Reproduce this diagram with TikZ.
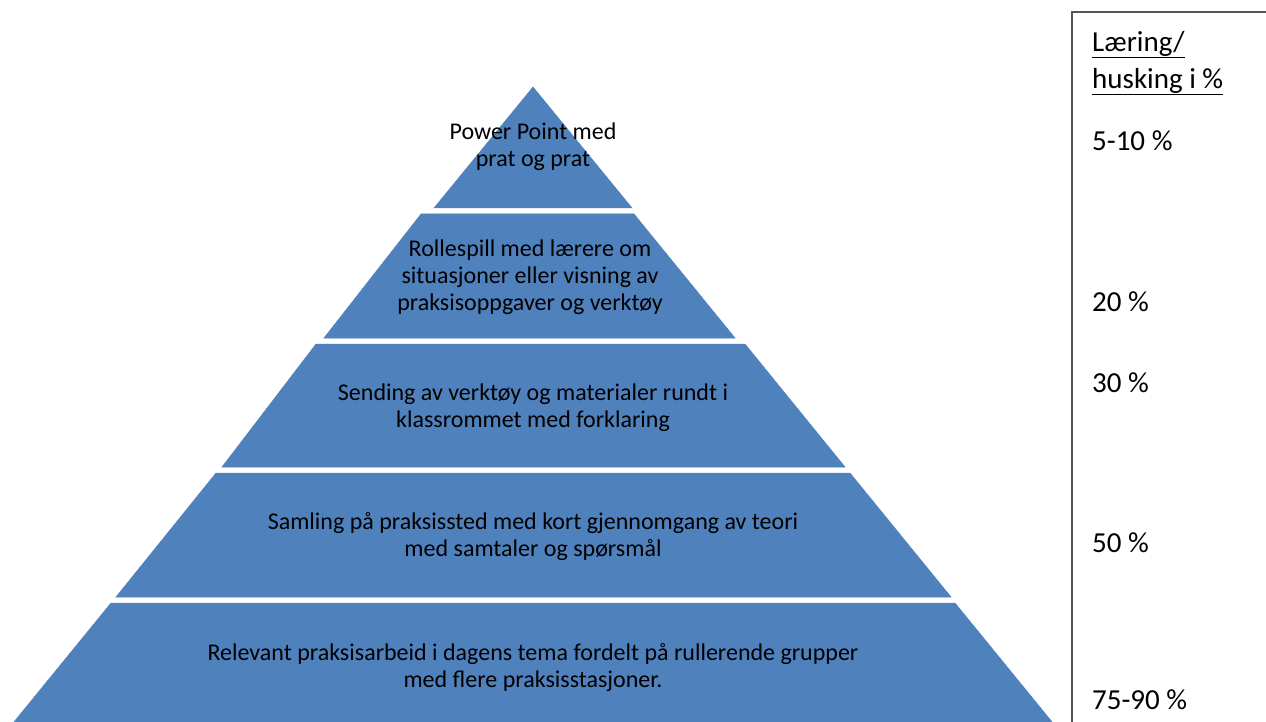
\documentclass[tikz,border=0pt]{standalone}
\usepackage{fontspec}
\setmainfont{Carlito}
\definecolor{lagblaa}{HTML}{4F81BD}
\definecolor{rammegraa}{HTML}{555555}
\tikzset{
    lag/.style={fill=lagblaa, draw=lagblaa, line width=0.5pt},
    lagtekst/.style={font=\fontsize{24}{27}\selectfont, align=center, inner sep=0pt},
    prosent/.style={font=\fontsize{29}{37}\selectfont, align=left, anchor=west, inner sep=0pt},
}
\begin{document}
\begin{tikzpicture}[x=1pt, y=-1pt]
    \useasboundingbox (0,0) rectangle (1266,722);
    \clip (0,0) rectangle (1266,722);

    % pyramid layers: top y, top left x, top right x, bottom y, bottom left x, bottom right x
    \foreach \yt/\xtl/\xtr/\yb/\xbl/\xbr in {
        87/533/533/208/434/632,
        214/421/634/338/324/735,
        344/316/745/467/222/845,
        473/216/850/597/116/951,
        603/111/955/728/9/1057}
        \fill[lag] (\xtl,\yt) -- (\xtr,\yt) -- (\xbr,\yb) -- (\xbl,\yb) -- cycle;

    % layer texts
    \node[lagtekst] (lag1) at (533,147) {Power Point med\\prat og prat};
    \node[lagtekst] (lag2) at (530,277) {Rollespill med lærere om\\situasjoner eller visning av\\praksisoppgaver og verktøy};
    \node[lagtekst] (lag3) at (533,408) {Sending av verktøy og materialer rundt i\\klassrommet med forklaring};
    \node[lagtekst] (lag4) at (533,537) {Samling på praksissted med kort gjennomgang av teori\\med samtaler og spørsmål};
    \node[lagtekst] (lag5) at (533,668) {Relevant praksisarbeid i dagens tema fordelt på rullerende grupper\\med flere praksisstasjoner.};

    % frame on the right
    \coordinate (rammeBunn) at (1072,723);
    \coordinate (rammeHjorne) at (1072,12);
    \coordinate (rammeHoyre) at (1267,12);
    \draw[rammegraa, line width=1.6pt] (rammeBunn) -- (rammeHjorne) -- (rammeHoyre);

    % learning percentages
    \node[prosent] (overskrift) at (1092,63) {\underline{Læring/}\\\underline{husking i \%}};
    \node[prosent] (p1) at (1092,141) {5-10 \%};
    \node[prosent] (p2) at (1092,302) {20 \%};
    \node[prosent] (p3) at (1092,383) {30 \%};
    \node[prosent] (p4) at (1092,543) {50 \%};
    \node[prosent] (p5) at (1092,700) {75-90 \%};
\end{tikzpicture}
\end{document}
